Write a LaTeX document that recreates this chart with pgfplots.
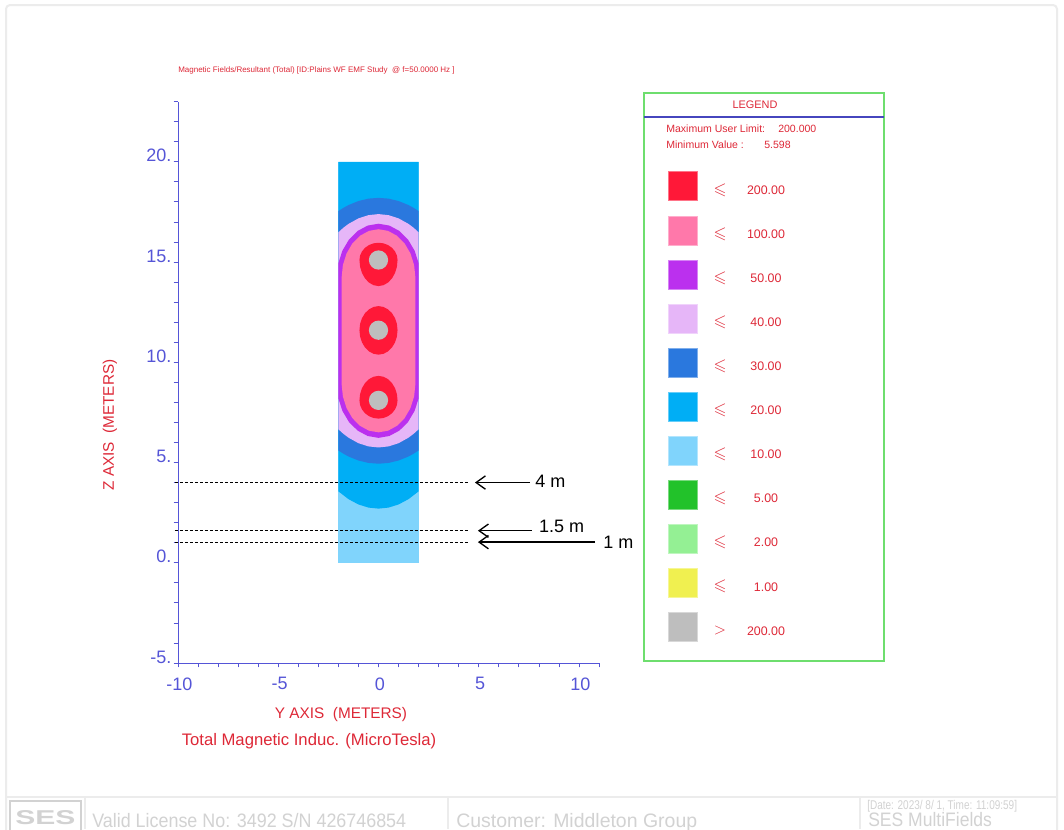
\documentclass[border=0pt]{standalone}
\usepackage{pgfplots}
\pgfplotsset{compat=1.18}
\usepackage{fontspec}
\setmainfont{Liberation Sans}
\usepackage{amssymb}
\usetikzlibrary{arrows.meta}
\newcommand{\fs}[1]{\fontsize{#1}{#1}\selectfont}
\definecolor{cRed}{RGB}{255,24,56}
\definecolor{cPink}{RGB}{255,120,170}
\definecolor{cPurple}{RGB}{187,48,238}
\definecolor{cLav}{RGB}{230,182,248}
\definecolor{cDBlue}{RGB}{42,120,222}
\definecolor{cBlue}{RGB}{0,174,245}
\definecolor{cLBlue}{RGB}{128,212,252}
\definecolor{cGreen}{RGB}{34,194,42}
\definecolor{cLGreen}{RGB}{148,240,148}
\definecolor{cYellow}{RGB}{240,240,80}
\definecolor{cGray}{RGB}{190,190,190}
\definecolor{axblue}{RGB}{85,85,215}
\definecolor{txtred}{RGB}{222,40,55}
\definecolor{framec}{RGB}{236,236,236}
\definecolor{footc}{RGB}{210,210,210}
\definecolor{lgreen}{RGB}{110,222,110}
\definecolor{hdrblue}{RGB}{70,70,190}
\begin{document}
\begin{tikzpicture}
\useasboundingbox (0pt,0pt) rectangle (798pt,-621.75pt);
\clip (0pt,0pt) rectangle (798pt,-621.75pt);
\fill[white] (0pt,0pt) rectangle (798pt,-621.75pt);
\begin{scope}[x=0.75pt,y=-0.75pt]
% page frame and footer
\draw[framec, line width=1.5pt, rounded corners=3pt] (6,5) rectangle (1057,860);
\draw[framec, line width=1.2pt] (6,797) -- (1057,797);
\draw[framec, line width=1.2pt] (85,797) -- (85,829);
\draw[framec, line width=1.2pt] (448,797) -- (448,829);
\draw[framec, line width=1.2pt] (860,797) -- (860,829);
\draw[footc, line width=1pt] (10,801) rectangle (81,840);
\node[footc, font=\fs{15}\bfseries, anchor=base west, inner sep=0pt] at (15,824) {\scalebox{1.5}[1]{SES}};
\node[footc, font=\fs{14.6}, anchor=base west, inner sep=0pt] at (92,827) {\scalebox{0.92}[1]{Valid License No: 3492 S/N 426746854}};
\node[footc, font=\fs{14.6}, anchor=base west, inner sep=0pt] at (456,827) {Customer: Middleton Group};
\node[footc, font=\fs{9.5}, anchor=base west, inner sep=0pt] at (867,809) {\scalebox{0.79}[1]{[Date: 2023/ 8/ 1, Time: 11:09:59]}};
\node[footc, font=\fs{14.6}, anchor=base west, inner sep=0pt] at (868,826.5) {\scalebox{0.9}[1]{SES MultiFields}};
% title and labels
\node[txtred, font=\fs{6.0}, anchor=west, inner sep=0pt] at (178,70) {Magnetic Fields/Resultant (Total) [ID:Plains WF EMF Study \ @ f=50.0000 Hz ]};
\node[txtred, font=\fs{11.5}, rotate=90, inner sep=0pt] at (110,425) {Z AXIS \ (METERS)};
\node[txtred, font=\fs{11.5}, inner sep=0pt] at (341,714.5) {Y AXIS \ (METERS)};
\node[txtred, font=\fs{12.5}, inner sep=0pt] at (309,741.5) {Total Magnetic Induc. (MicroTesla)};
% legend
\draw[lgreen, line width=0.8pt] (644,93) rectangle (884,661);
\draw[hdrblue, line width=0.8pt] (644,117) -- (884,117);
\node[txtred, font=\fs{8.2}, inner sep=0pt] at (755,104.5) {LEGEND};
\node[txtred, font=\fs{7.9}, anchor=west, inner sep=0pt] at (666,129) {Maximum User Limit:};
\node[txtred, font=\fs{7.9}, anchor=west, inner sep=0pt] at (778,129) {200.000};
\node[txtred, font=\fs{7.9}, anchor=west, inner sep=0pt] at (666,145) {Minimum Value :};
\node[txtred, font=\fs{7.9}, anchor=west, inner sep=0pt] at (764,145) {5.598};
\foreach \c/\s/\v [count=\i from 0] in {cRed/$\leqslant$/200.00, cPink/$\leqslant$/100.00, cPurple/$\leqslant$/50.00, cLav/$\leqslant$/40.00, cDBlue/$\leqslant$/30.00, cBlue/$\leqslant$/20.00, cLBlue/$\leqslant$/10.00, cGreen/$\leqslant$/5.00, cLGreen/$\leqslant$/2.00, cYellow/$\leqslant$/1.00, cGray/$>$/200.00}{
  \pgfmathsetmacro{\yy}{186.3+44.05*\i}
  \fill[\c] (668,\yy-14.5) rectangle (697,\yy+14.5);
  \draw[\c!60!white, line width=0.5pt] (668,\yy-14.5) rectangle (697,\yy+14.5);
  \node[txtred, font=\fs{12.5}, inner sep=0pt] at (720,\yy+4) {\s};
  \node[txtred, font=\fs{9.3}, inner sep=0pt] at (766,\yy+4) {\v};
}
\end{scope}
\begin{axis}[
  at={(133.5pt,-497.25pt)}, anchor=south west,
  scale only axis, width=315.79pt, height=421.05pt,
  xmin=-10, xmax=11, ymin=-5, ymax=23,
  axis lines*=left,
  axis line style={axblue, line width=0.7pt},
  xtick={-10,-5,0,5,10}, xticklabels={-10,-5,0,5,10},
  ytick={-5,0,5,10,15,20}, yticklabels={-5.,0.,5.,10.,15.,20.},
  minor xtick={-9,...,11}, minor ytick={-4,...,23},
  tick align=outside, major tick length=3.2pt, minor tick length=3.2pt,
  tick style={axblue, line width=0.6pt},
  ticklabel style={font=\fs{13.5}, text=axblue},
  xticklabel style={anchor=north, inner sep=0pt, yshift=-7.5pt, xshift=1pt},
  yticklabel style={anchor=base east, inner sep=0pt, xshift=-1.5pt},
  clip=false,
]
% 10 uT band (background)
\addplot[fill=cLBlue, draw=none] coordinates {(-2,0)(2,0)(2,20)(-2,20)} -- cycle;
% 20 uT
\addplot[fill=cBlue, draw=none] coordinates {(-2,20)(-2,3.562)(-1.5,3.174)(-1,2.908)(-0.5,2.751)(0,2.70)(0.5,2.751)(1,2.908)(1.5,3.174)(2,3.562)(2,20)} -- cycle;
% 30 uT
\addplot[fill=cDBlue, draw=none] coordinates {(-2,17.541)(-1.75,17.70)(-1.5,17.838)(-1,18.042)(-0.5,18.161)(0,18.20)(0.5,18.161)(1,18.042)(1.5,17.838)(1.75,17.70)(2,17.541)(2,5.600)(1.75,5.44)(1.5,5.302)(1,5.099)(0.5,4.979)(0,4.94)(-0.5,4.979)(-1,5.099)(-1.5,5.302)(-1.75,5.44)(-2,5.600)} -- cycle;
% 40 uT
\addplot[fill=cLav, draw=none] coordinates {(-2,16.483)(-1.75,16.710)(-1.5,16.899)(-1,17.177)(-0.5,17.338)(0,17.39)(0.5,17.338)(1,17.177)(1.5,16.899)(1.75,16.710)(2,16.483)(2,6.657)(1.75,6.430)(1.5,6.241)(1,5.963)(0.5,5.803)(0,5.75)(-0.5,5.803)(-1,5.963)(-1.5,6.241)(-1.75,6.430)(-2,6.657)} -- cycle;
% 50 uT
\addplot[fill=cPurple, draw=none] coordinates {(0,16.91)(0.538,16.818)(1.04,16.55)(1.471,16.122)(1.801,15.565)(2,14.945)(2,8.195)(1.801,7.575)(1.471,7.018)(1.04,6.59)(0.538,6.322)(0,6.23)(-0.538,6.322)(-1.04,6.59)(-1.471,7.018)(-1.801,7.575)(-2,8.195)(-2,14.945)(-1.801,15.565)(-1.471,16.122)(-1.04,16.55)(-0.538,16.818)} -- cycle;
% 100 uT
\addplot[fill=cPink, draw=none] coordinates {(0,16.635)(0.476,16.553)(0.92,16.311)(1.301,15.928)(1.593,15.428)(1.777,14.845)(1.84,14.22)(1.84,8.92)(1.777,8.295)(1.593,7.712)(1.301,7.212)(0.92,6.829)(0.476,6.587)(0,6.505)(-0.476,6.587)(-0.92,6.829)(-1.301,7.212)(-1.593,7.712)(-1.777,8.295)(-1.84,8.92)(-1.84,14.22)(-1.777,14.845)(-1.593,15.428)(-1.301,15.928)(-0.92,16.311)(-0.476,16.553)} -- cycle;
% 200 uT around conductors
\addplot[fill=cRed, draw=none] coordinates {(0.95,15.1)(0.918,15.323)(0.823,15.53)(0.672,15.708)(0.475,15.845)(0.246,15.931)(0,15.96)(-0.246,15.931)(-0.475,15.845)(-0.672,15.708)(-0.823,15.53)(-0.918,15.323)(-0.95,15.1)(-0.918,14.763)(-0.823,14.45)(-0.672,14.181)(-0.475,13.974)(-0.246,13.844)(0,13.8)(0.246,13.844)(0.475,13.974)(0.672,14.181)(0.823,14.45)(0.918,14.763)} -- cycle;
\addplot[fill=cRed, draw=none] coordinates {(0.95,11.6)(0.918,11.911)(0.823,12.2)(0.672,12.448)(0.475,12.639)(0.246,12.759)(0,12.8)(-0.246,12.759)(-0.475,12.639)(-0.672,12.448)(-0.823,12.2)(-0.918,11.911)(-0.95,11.6)(-0.918,11.284)(-0.823,10.99)(-0.672,10.737)(-0.475,10.543)(-0.246,10.421)(0,10.38)(0.246,10.421)(0.475,10.543)(0.672,10.737)(0.823,10.99)(0.918,11.284)} -- cycle;
\addplot[fill=cRed, draw=none] coordinates {(0.95,8.1)(0.918,8.416)(0.823,8.71)(0.672,8.963)(0.475,9.157)(0.246,9.279)(0,9.32)(-0.246,9.279)(-0.475,9.157)(-0.672,8.963)(-0.823,8.71)(-0.918,8.416)(-0.95,8.1)(-0.918,7.864)(-0.823,7.645)(-0.672,7.457)(-0.475,7.312)(-0.246,7.221)(0,7.19)(0.246,7.221)(0.475,7.312)(0.672,7.457)(0.823,7.645)(0.918,7.864)} -- cycle;
% conductors (> 200 uT)
\addplot[fill=cGray, draw=none] coordinates {(0.48,15.1)(0.443,15.284)(0.339,15.439)(0.184,15.543)(0,15.58)(-0.184,15.543)(-0.339,15.439)(-0.443,15.284)(-0.48,15.1)(-0.443,14.916)(-0.339,14.761)(-0.184,14.657)(0,14.62)(0.184,14.657)(0.339,14.761)(0.443,14.916)} -- cycle;
\addplot[fill=cGray, draw=none] coordinates {(0.48,11.6)(0.443,11.784)(0.339,11.939)(0.184,12.043)(0,12.08)(-0.184,12.043)(-0.339,11.939)(-0.443,11.784)(-0.48,11.6)(-0.443,11.416)(-0.339,11.261)(-0.184,11.157)(0,11.12)(0.184,11.157)(0.339,11.261)(0.443,11.416)} -- cycle;
\addplot[fill=cGray, draw=none] coordinates {(0.48,8.1)(0.443,8.284)(0.339,8.439)(0.184,8.543)(0,8.58)(-0.184,8.543)(-0.339,8.439)(-0.443,8.284)(-0.48,8.1)(-0.443,7.916)(-0.339,7.761)(-0.184,7.657)(0,7.62)(0.184,7.657)(0.339,7.761)(0.443,7.916)} -- cycle;
% measurement heights
\addplot[black, line width=0.8pt, dash pattern=on 2.25pt off 1.5pt] coordinates {(-10.15,4.0)(4.5,4.0)};
\addplot[black, line width=0.8pt, dash pattern=on 2.25pt off 1.5pt] coordinates {(-10.15,1.6)(4.5,1.6)};
\addplot[black, line width=0.8pt, dash pattern=on 2.25pt off 1.5pt] coordinates {(-10.15,1.03)(4.5,1.03)};
\addplot[black, line width=1pt, -{Straight Barb[length=7pt,width=10pt]}] coordinates {(7.56,4.0)(4.81,4.0)};
\addplot[black, line width=1pt, -{Straight Barb[length=7pt,width=10pt]}] coordinates {(7.65,1.6)(4.96,1.6)};
\addplot[black, line width=1pt, -{Straight Barb[length=7pt,width=10pt]}] coordinates {(10.8,1.03)(4.96,1.03)};
\node[anchor=west, inner sep=0pt, font=\fs{13.5}] at (axis cs:7.81,4.05) {4 m};
\node[anchor=west, inner sep=0pt, font=\fs{13.5}] at (axis cs:8.0,1.8) {1.5 m};
\node[anchor=west, inner sep=0pt, font=\fs{13.5}] at (axis cs:11.2,1.0) {1 m};
\end{axis}
\end{tikzpicture}
\end{document}
